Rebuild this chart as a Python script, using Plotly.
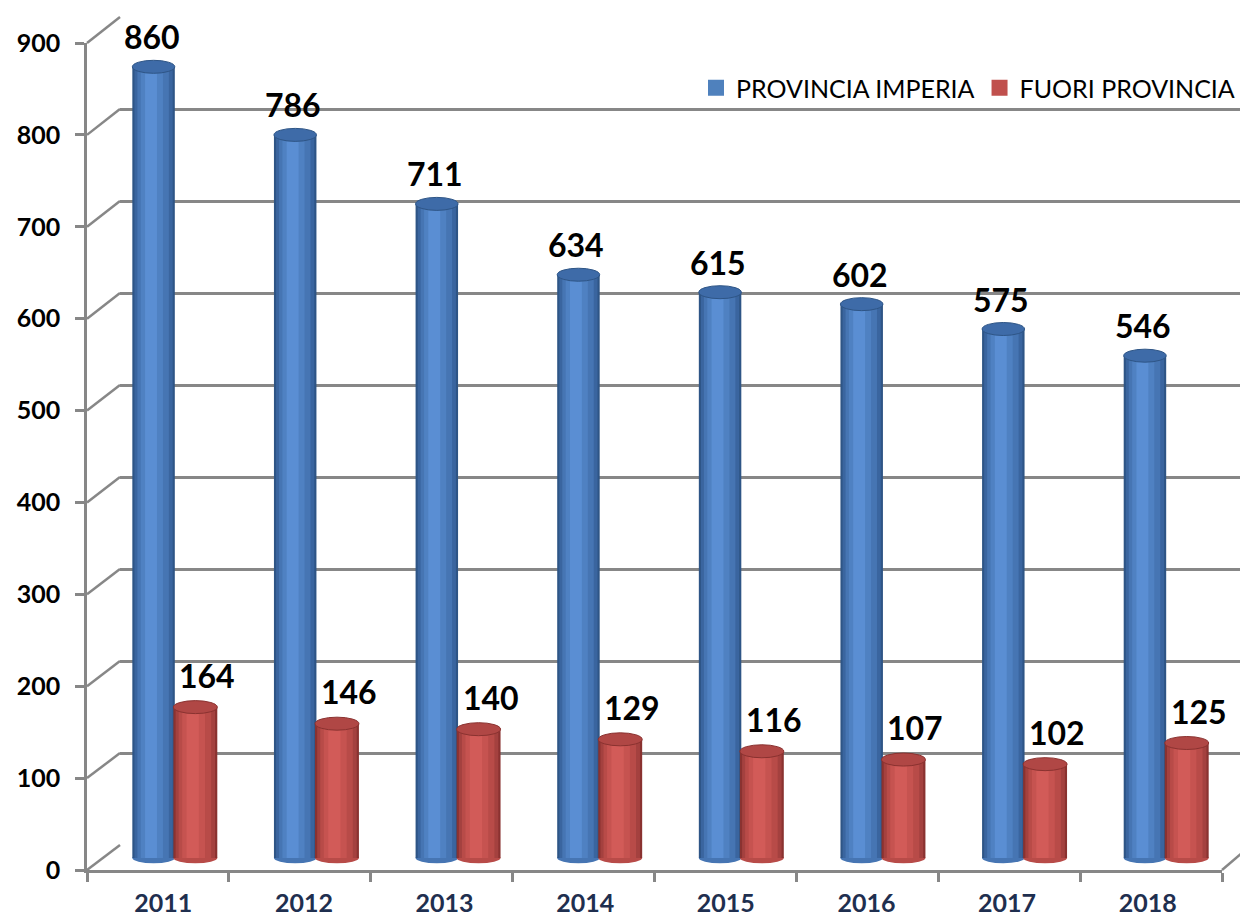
import plotly.graph_objects as go

# --- data ---
years = ["2011", "2012", "2013", "2014", "2015", "2016", "2017", "2018"]
provincia_imperia = [860, 786, 711, 634, 615, 602, 575, 546]
fuori_provincia = [164, 146, 140, 129, 116, 107, 102, 125]
y_ticks = [0, 100, 200, 300, 400, 500, 600, 700, 800, 900]

# page body has an 8px margin, so the figure is drawn 8px in from the corner
PAGE_OFF = 8
W_PX, H_PX = 1248 - PAGE_OFF, 920 - PAGE_OFF
FONT = "Lato"
GRID = "#878787"


def fx(p):
    return (p - PAGE_OFF) / W_PX


def fy(p):
    return 1 - (p - PAGE_OFF) / H_PX


# pixel boxes (screen coords): back wall, bars (mid depth), front axis
BACK_X, BACK_Y = (120, 1260), (17, 845)
BAR_X, BAR_Y = (104, 1237), (30, 867.2)
FRONT_X, FRONT_Y = (87, 1222), (43, 870)
LABEL_X = (93, 1218)

px_per_unit = (845 - 17) / 900.0
cap_half = 6.5 / px_per_unit

# cylinder shading layers: (start, end) fraction of bar width, colour
series = [
    dict(name="PROVINCIA IMPERIA", values=provincia_imperia, off=-0.30, w=0.30,
         layers=[((0.0, 1.0), "#2E5586"), ((0.05, 0.95), "#3A659F"),
                 ((0.12, 0.86), "#4675B3"), ((0.2, 0.72), "#4F81C2"),
                 ((0.3, 0.58), "#5A8ED3")],
         legend="#4F81BD", cap="#3E6BA8", rim="#2E5586", lx=-2, ly=30),
    dict(name="FUORI PROVINCIA", values=fuori_provincia, off=-0.01, w=0.31,
         layers=[((0.0, 1.0), "#8A3230"), ((0.05, 0.95), "#A4413F"),
                 ((0.12, 0.86), "#B84B48"), ((0.2, 0.72), "#C65350"),
                 ((0.3, 0.58), "#D25B58")],
         legend="#C0504D", cap="#B04745", rim="#8A3230", lx=12, ly=32),
]

fig = go.Figure()

# back wall subplot (gridlines only)
fig.add_trace(go.Scatter(x=[None], y=[None], xaxis="x", yaxis="y",
                         showlegend=False, hoverinfo="skip"))

xs = list(range(len(years)))
shapes = []
annotations = []
for s in series:
    for (a, b), col in s["layers"]:
        fig.add_trace(go.Bar(
            x=xs, y=s["values"], xaxis="x2", yaxis="y2",
            offset=s["off"] + a * s["w"], width=(b - a) * s["w"],
            marker=dict(color=col, line=dict(width=0)),
            name=s["name"], showlegend=False, hoverinfo="skip",
        ))
    # legend proxy (square swatch)
    fig.add_trace(go.Scatter(x=[None], y=[None], xaxis="x2", yaxis="y2",
                             mode="markers", name=s["name"],
                             marker=dict(symbol="square", size=16,
                                         color=s["legend"])))
    for i, v in zip(xs, s["values"]):
        x0 = i + s["off"]
        x1 = x0 + s["w"]
        # bottom rim
        shapes.append(dict(type="circle", xref="x2", yref="y2", layer="below",
                           x0=x0, x1=x1, y0=-cap_half * 0.8, y1=cap_half * 0.8,
                           fillcolor=s["layers"][2][1], line=dict(width=0)))
        # top cap
        shapes.append(dict(type="circle", xref="x2", yref="y2", layer="above",
                           x0=x0, x1=x1, y0=v - cap_half, y1=v + cap_half,
                           fillcolor=s["cap"], line=dict(color=s["rim"], width=1)))
        annotations.append(dict(x=(x0 + x1) / 2, y=v, xref="x2", yref="y2",
                                text=str(v), showarrow=False,
                                xshift=s["lx"], yshift=s["ly"], yanchor="middle",
                                font=dict(family=FONT, size=32, color="black",
                                          weight="bold")))

# front axis subplot and tick-label axis
fig.add_trace(go.Scatter(x=[None], y=[None], xaxis="x3", yaxis="y3",
                         showlegend=False, hoverinfo="skip"))
fig.add_trace(go.Scatter(x=[None], y=[None], xaxis="x4", yaxis="y3",
                         showlegend=False, hoverinfo="skip"))

# perspective connectors front -> back at each y tick
for t in y_ticks:
    yf = FRONT_Y[1] - (FRONT_Y[1] - FRONT_Y[0]) * t / 900
    yb = BACK_Y[1] - (BACK_Y[1] - BACK_Y[0]) * t / 900
    shapes.append(dict(type="line", xref="paper", yref="paper",
                       x0=fx(FRONT_X[0]), y0=fy(yf), x1=fx(BACK_X[0]), y1=fy(yb),
                       line=dict(color=GRID, width=2.5)))
shapes.append(dict(type="line", xref="paper", yref="paper",
                   x0=fx(FRONT_X[1]), y0=fy(FRONT_Y[1]),
                   x1=fx(FRONT_X[1] + 33), y1=fy(FRONT_Y[1] - 28),
                   line=dict(color=GRID, width=2.5)))

boundaries = [i - 0.5 for i in range(len(years) + 1)]

fig.update_layout(
    width=W_PX, height=H_PX,
    margin=dict(l=0, r=0, t=0, b=0, pad=0, autoexpand=False),
    paper_bgcolor="white", plot_bgcolor="rgba(0,0,0,0)",
    barmode="overlay",
    font=dict(family=FONT, color="black"),
    shapes=shapes, annotations=annotations,
    legend=dict(orientation="h", x=fx(1240), xanchor="right",
                y=fy(88), yanchor="middle", font=dict(size=25, color="black"),
                bgcolor="rgba(0,0,0,0)", itemwidth=30, itemsizing="trace",
                traceorder="normal"),
    xaxis=dict(domain=[fx(BACK_X[0]), 1.0], range=[0, 1],
               visible=False, fixedrange=True, automargin=False),
    yaxis=dict(domain=[fy(BACK_Y[1]), fy(BACK_Y[0])], range=[0, 900],
               dtick=100, showgrid=True, gridcolor=GRID, gridwidth=2.5,
               zeroline=False, showticklabels=False, showline=False,
               automargin=False),
    xaxis2=dict(domain=[fx(BAR_X[0]), fx(BAR_X[1])], range=[-0.5, 7.5],
                visible=False, automargin=False),
    yaxis2=dict(domain=[fy(BAR_Y[1]), fy(BAR_Y[0])], range=[-10, 900],
                visible=False, automargin=False),
    xaxis3=dict(domain=[fx(FRONT_X[0]), fx(FRONT_X[1])], range=[-0.5, 7.5],
                anchor="y3", showgrid=False, zeroline=False, automargin=False,
                showline=True, linecolor=GRID, linewidth=2.5,
                tickmode="array", tickvals=boundaries, showticklabels=False,
                ticks="outside", ticklen=9, tickwidth=2.5, tickcolor=GRID),
    yaxis3=dict(domain=[fy(FRONT_Y[1]), fy(FRONT_Y[0])], range=[0, 900],
                anchor="x3", showgrid=False, zeroline=False, automargin=False,
                showline=True, linecolor=GRID, linewidth=2.5,
                tickmode="array", tickvals=y_ticks,
                ticks="outside", ticklen=9, tickwidth=2.5, tickcolor=GRID,
                ticklabelstandoff=10,
                tickfont=dict(family=FONT, size=25, color="black", weight="bold")),
    xaxis4=dict(domain=[fx(LABEL_X[0]), fx(LABEL_X[1])], range=[-0.5, 7.5],
                anchor="y3", showgrid=False, zeroline=False, showline=False,
                automargin=False,
                tickmode="array", tickvals=xs, ticktext=years, ticks="",
                ticklabelstandoff=16,
                tickfont=dict(family=FONT, size=25, color="#1F2F4F", weight="bold")),
)

fig.write_html("out.html")
